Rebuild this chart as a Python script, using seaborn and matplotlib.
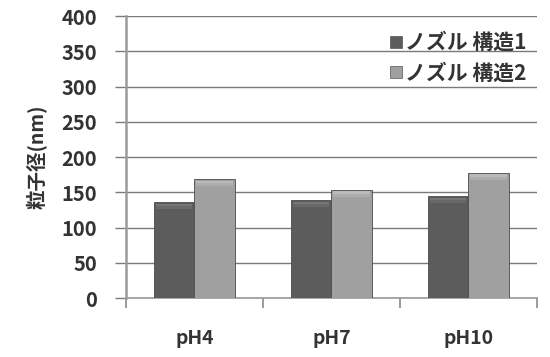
import matplotlib
matplotlib.use("Agg")
import matplotlib.pyplot as plt
import seaborn as sns
import pandas as pd
import numpy as np

# Particle size by pH for two nozzle structures
categories = ["pH4", "pH7", "pH10"]
series_names = ["ノズル 構造1", "ノズル 構造2"]
nozzle1 = [136, 139, 145]
nozzle2 = [169, 154, 178]
y_ticks = [0, 50, 100, 150, 200, 250, 300, 350, 400]

df = pd.DataFrame({
    "pH": categories * 2,
    "series": [series_names[0]] * 3 + [series_names[1]] * 3,
    "size": nozzle1 + nozzle2,
})

sns.set_theme(style="white")
plt.rcParams["font.family"] = ["Noto Sans CJK JP", "DejaVu Sans"]

text_color = "#333333"
palette = {series_names[0]: "#5c5c5c", series_names[1]: "#a0a0a0"}

fig = plt.figure(figsize=(5.5, 3.57), dpi=100)
ax = fig.add_axes([0.229, 0.165, 0.747, 0.79])

sns.barplot(data=df, x="pH", y="size", hue="series", order=categories,
            hue_order=series_names, palette=palette, width=0.59, gap=0,
            saturation=1, edgecolor="#4a4a4a", linewidth=0.6, ax=ax,
            legend=False, zorder=3)

# soft bevel along the top of each bar
for patch in ax.patches:
    x0 = patch.get_x()
    w = patch.get_width()
    h = patch.get_height()
    base = np.array(patch.get_facecolor()[:3])
    for k, (lo, hi) in enumerate([(10, 6), (6, 2.5)]):
        c = np.clip(base + 0.05 * (k + 1), 0, 1)
        ax.fill_between([x0 + w * 0.05, x0 + w * 0.95], h - lo, h - hi,
                        color=c, zorder=4, linewidth=0)

ax.set_ylim(0, 400)
ax.set_xlim(-0.5, 2.5)
ax.set_yticks(y_ticks)
ax.set_yticklabels([str(v) for v in y_ticks])
ax.yaxis.grid(True, color="#7a7a7a", linewidth=1.0, zorder=0)
ax.xaxis.grid(False)

for side in ["top", "right"]:
    ax.spines[side].set_visible(False)
ax.spines["left"].set_color("#9a9a9a")
ax.spines["left"].set_linewidth(1.8)
ax.spines["bottom"].set_color("#9a9a9a")
ax.spines["bottom"].set_linewidth(1.2)

ax.tick_params(axis="y", which="major", length=8, width=1.0, color="#7a7a7a",
               pad=13, labelsize=14.5, labelcolor=text_color, left=True)
ax.set_xticks([0, 1, 2])
ax.set_xticklabels(categories)
ax.set_xticks([-0.5, 0.5, 1.5, 2.5], minor=True)
ax.tick_params(axis="x", which="major", length=0, pad=22, labelsize=14,
               labelcolor=text_color)
ax.tick_params(axis="x", which="minor", length=7, width=1.2, color="#8a8a8a",
               bottom=True)
for lbl in ax.get_xticklabels() + ax.get_yticklabels():
    lbl.set_fontweight("bold")

ax.set_xlabel("")
ax.set_ylabel("粒子径(nm)", fontsize=14, fontweight="bold", color=text_color,
              labelpad=10)

handles = [plt.Line2D([], [], marker="s", linestyle="none", markersize=9,
                      markerfacecolor=palette[n], markeredgecolor="#555555",
                      markeredgewidth=0.5) for n in series_names]
leg = ax.legend(handles, series_names, loc="upper right", frameon=False,
                fontsize=15, handletextpad=0.05, handlelength=0.8,
                labelspacing=0.45, borderaxespad=0.1,
                bbox_to_anchor=(1.0, 0.98))
for t in leg.get_texts():
    t.set_fontweight("bold")
    t.set_color(text_color)

fig.savefig("out.png", dpi=100, facecolor="white")
